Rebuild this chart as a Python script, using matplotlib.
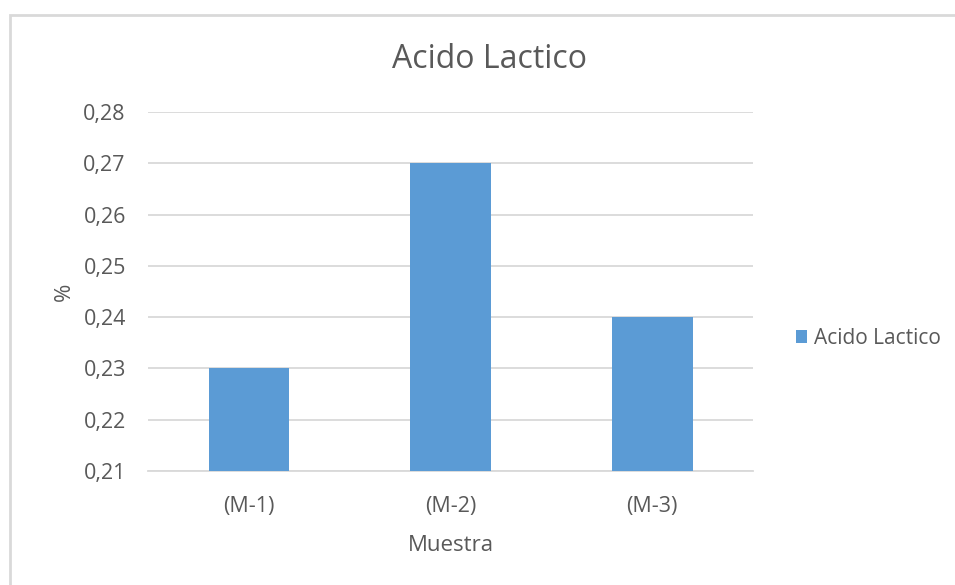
import matplotlib.pyplot as plt
from matplotlib.patches import Rectangle

muestras = ['(M-1)', '(M-2)', '(M-3)']
acido_lactico = [0.23, 0.27, 0.24]
y_ticks = [0.21, 0.22, 0.23, 0.24, 0.25, 0.26, 0.27, 0.28]

plt.rcParams['font.family'] = ['Open Sans', 'DejaVu Sans']
text_color = '#595959'
grid_color = '#d9d9d9'

fig = plt.figure(figsize=(9.55, 5.85), dpi=100)
ax = fig.add_axes([148 / 955, 1 - 471 / 585, 605 / 955, 359 / 585])

x = range(len(muestras))
ax.bar(x, acido_lactico, width=0.4, color='#5b9bd5', label='Acido Lactico', zorder=3)

ax.set_xlim(-0.5, 2.5)
ax.set_ylim(0.21, 0.28)
ax.set_yticks(y_ticks)
ax.set_yticklabels([f'{v:.2f}'.replace('.', ',') for v in y_ticks])
ax.set_xticks(list(x))
ax.set_xticklabels(muestras)
ax.tick_params(axis='both', length=0, labelsize=15.5, colors=text_color)
ax.tick_params(axis='y', pad=16)
ax.tick_params(axis='x', pad=18)
ax.grid(axis='y', color=grid_color, lw=1.3, zorder=0)
for side in ['top', 'right', 'left']:
    ax.spines[side].set_visible(False)
ax.spines['bottom'].set_color(grid_color)
ax.spines['bottom'].set_linewidth(1.3)

ax.set_xlabel('Muestra', fontsize=16, color=text_color, labelpad=13)
ax.set_ylabel('%', fontsize=16, color=text_color, labelpad=6)
fig.text(489 / 955, 1 - 60 / 585, 'Acido Lactico', fontsize=23, color=text_color,
         ha='center', va='center')

ax.legend(loc='center left', bbox_to_anchor=(1.04, 0.37), frameon=False,
          fontsize=15, labelcolor=text_color, handlelength=0.55, handleheight=0.55,
          handletextpad=0.3)

# chart area border
fig.patches.append(Rectangle((9.5 / 955, -0.1), 2, 1 - 14.5 / 585 + 0.1,
                             transform=fig.transFigure, fill=False,
                             edgecolor=grid_color, lw=2))

fig.savefig('out.png', dpi=100)
